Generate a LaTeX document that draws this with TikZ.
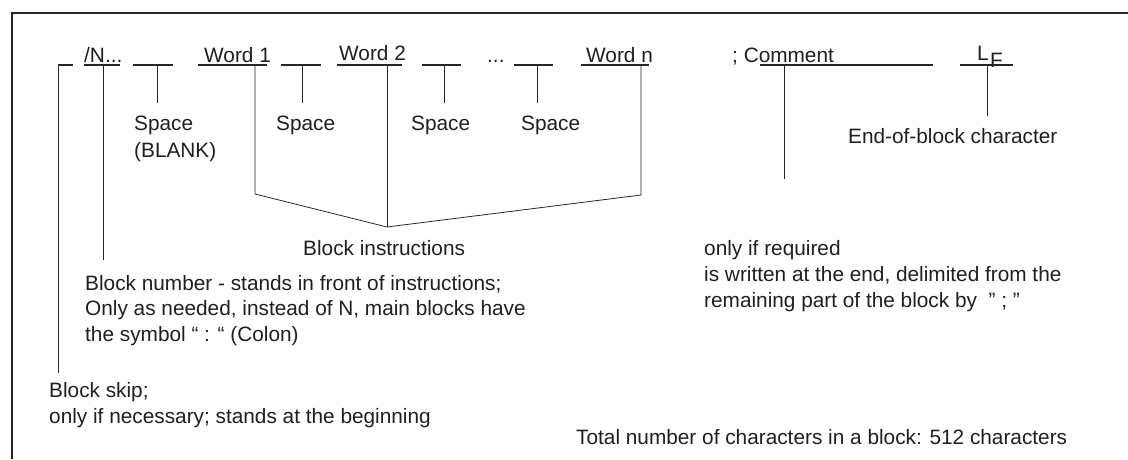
\documentclass[tikz,border=0pt]{standalone}
\usepackage{fontspec}
\setmainfont{Liberation Sans}
\begin{document}
\begin{tikzpicture}[x=1pt,y=-1pt,
  txt/.style={anchor=base west,inner sep=0pt,text=black!88,font=\fontsize{20.8}{25.8}\selectfont},
  uline/.style={line width=1.4pt,draw=black!85},
  conn/.style={line width=0.8pt,draw=black!85},
  frame/.style={line width=2pt,draw=black!85}]
\useasboundingbox (0,0) rectangle (1128,459);
\draw[frame] (12,459) -- (12,13) -- (1128,13);

% top row texts
\node[txt] (tN) at (84,62) {/N...};
\node[txt] (tw1) at (204,62) {Word 1};
\node[txt] (tw2) at (339,60) {Word 2};
\node[txt] (tdots) at (487,62) {...};
\node[txt] (twn) at (586,62) {Word n};
\node[txt] (tcom) at (732,62) {; Comment};
\node[txt] (tL) at (977,60) {L};
\node[txt] (tF) at (990,67) {F};

% underlines
\coordinate (u0a) at (58,65);  \coordinate (u0b) at (73,65);
\coordinate (uNa) at (84,65);  \coordinate (uNb) at (120,65);
\coordinate (us1a) at (133,65); \coordinate (us1b) at (173,65);
\coordinate (uw1a) at (198,65); \coordinate (uw1b) at (267,65);
\coordinate (us2a) at (281,65); \coordinate (us2b) at (321,65);
\coordinate (uw2a) at (337,65); \coordinate (uw2b) at (402,65);
\coordinate (us3a) at (422,65); \coordinate (us3b) at (461,65);
\coordinate (us4a) at (514,65); \coordinate (us4b) at (553,65);
\coordinate (uwna) at (581,65); \coordinate (uwnb) at (649,65);
\coordinate (ucma) at (760,65); \coordinate (ucmb) at (933,65);
\coordinate (ulfa) at (960,65); \coordinate (ulfb) at (1013,65);
\foreach \s in {u0,uN,us1,uw1,us2,uw2,us3,us4,uwn,ucm,ulf}
  \draw[uline] (\s a) -- (\s b);

% labels
\node[txt] (ls1) at (134,130) {Space};
\node[txt] (ls1b) at (134,157) {(BLANK)};
\node[txt] (ls2) at (276,130) {Space};
\node[txt] (ls3) at (411,130) {Space};
\node[txt] (ls4) at (521,130) {Space};
\node[txt] (leob) at (848,143) {End-of-block character};
\node[txt] (lbi) at (303,255) {Block instructions};
\node[txt] (lbn1) at (85,290) {Block number - stands in front of instructions;};
\node[txt] (lbn2) at (85,315.7) {Only as needed, instead of N, main blocks have};
\node[txt] (lbn3) at (85,341.4) {the symbol “ : “ (Colon)};
\node[txt] (lsk1) at (49,397) {Block skip;};
\node[txt] (lsk2) at (49,423) {only if necessary; stands at the beginning};
\node[txt] (lcm1) at (704,255) {only if required};
\node[txt] (lcm2) at (704,281) {is written at the end, delimited from the};
\node[txt] (lcm3) at (704,307) {remaining part of the block by \ \symbol{34} ; \symbol{34}};
\node[txt] (ltot) at (576,444) {Total number of characters in a block: 512 characters};

% connector end points
\coordinate (e0) at (58,373);
\coordinate (vN) at (103,65);  \coordinate (eN) at (103,260);
\coordinate (v1) at (157,65);  \coordinate (e1) at (157,103);
\coordinate (v2) at (302,65);  \coordinate (e2) at (302,103);
\coordinate (v3) at (444,65);  \coordinate (e3) at (444,103);
\coordinate (v4) at (537,65);  \coordinate (e4) at (537,103);
\coordinate (vw1) at (255,65); \coordinate (kw1) at (255,194);
\coordinate (vw2) at (387,65); \coordinate (junc) at (387,227);
\coordinate (vwn) at (641,65); \coordinate (kwn) at (641,195);
\coordinate (vcm) at (784,65); \coordinate (ecm) at (784,179);
\coordinate (vlf) at (987,65); \coordinate (elf) at (987,116);

\draw[conn] (u0a) -- (e0);
\draw[conn] (vN) -- (eN);
\draw[conn] (v1) -- (e1);
\draw[conn] (v2) -- (e2);
\draw[conn] (v3) -- (e3);
\draw[conn] (v4) -- (e4);
\draw[conn] (vw1) -- (kw1) -- (junc) -- (kwn) -- (vwn);
\draw[conn] (vw2) -- (junc);
\draw[conn] (vcm) -- (ecm);
\draw[conn] (vlf) -- (elf);
\end{tikzpicture}
\end{document}
